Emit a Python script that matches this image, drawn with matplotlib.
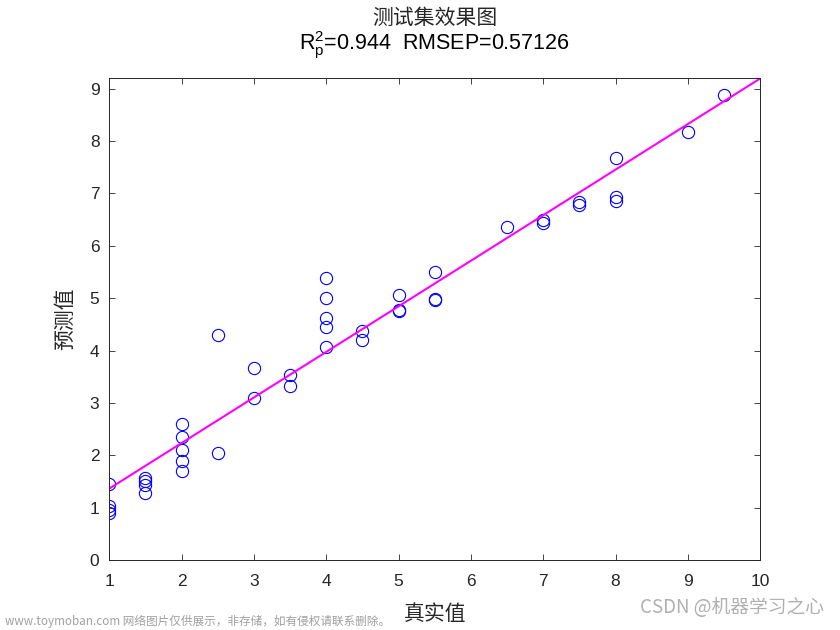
import matplotlib
matplotlib.use('Agg')
import matplotlib.pyplot as plt
import numpy as np

plt.rcParams['font.family'] = ['Liberation Sans', 'Noto Sans CJK SC', 'DejaVu Sans']
plt.rcParams['mathtext.fontset'] = 'custom'
plt.rcParams['mathtext.rm'] = 'Liberation Sans'
plt.rcParams['mathtext.it'] = 'Liberation Sans'

# test set: true values and predicted values
true_vals = [1, 1, 1, 1,
             1.5, 1.5, 1.5, 1.5,
             2, 2, 2, 2, 2,
             2.5, 2.5,
             3, 3,
             3.5, 3.5,
             4, 4, 4, 4, 4,
             4.5, 4.5,
             5, 5, 5,
             5.5, 5.5, 5.5,
             6.5,
             7, 7,
             7.5, 7.5,
             8, 8, 8,
             9,
             9.5]
pred_vals = [1.45, 1.03, 0.96, 0.90,
             1.57, 1.50, 1.43, 1.28,
             2.60, 2.34, 2.10, 1.89, 1.70,
             4.30, 2.05,
             3.67, 3.10,
             3.54, 3.33,
             5.38, 5.00, 4.62, 4.44, 4.07,
             4.38, 4.20,
             5.06, 4.77, 4.75,
             5.50, 4.98, 4.97,
             6.35,
             6.50, 6.44,
             6.83, 6.78,
             7.68, 6.93, 6.86,
             8.18,
             8.87]
r2_text = r'$\mathregular{R_p^2}$=0.944  RMSEP=0.57126'

x = np.array(true_vals)
y = np.array(pred_vals)
k, b = np.polyfit(x, y, 1)
xl = np.array([1, 10])

dark = '#262626'
fig = plt.figure(figsize=(8.4, 6.3), dpi=100)
ax = fig.add_axes([0.13, 0.111, 0.775, 0.765])
ax.plot(x, y, 'o', mfc='none', mec='#0000ff', ms=8.8, mew=0.8)
ax.plot(xl, k * xl + b, color='#ff00ff', lw=1.5)

ax.set_xlim(1, 10)
ax.set_ylim(0, 9.2)
ax.set_xticks(range(1, 11))
ax.set_yticks(range(0, 10))
ax.tick_params(direction='in', top=True, right=True, labelsize=12.5,
               length=4.5, width=0.6, colors=dark, labelcolor=dark)
ax.tick_params(axis='x', pad=10)
ax.tick_params(axis='y', pad=7)
for s in ax.spines.values():
    s.set_color(dark)
    s.set_linewidth(0.7)

cjk = ['Noto Sans CJK SC', 'DejaVu Sans']
ax.set_xlabel('真实值', family=cjk, fontsize=15, color=dark, labelpad=10)
ax.set_ylabel('预测值', family=cjk, fontsize=15, color=dark, labelpad=10)
fig.text(0.5175, 0.971, '测试集效果图', family=cjk, fontsize=15, ha='center', va='center',
         color=dark)
fig.text(0.5175, 0.921, r2_text, fontsize=15.5, ha='center', va='baseline', color='black')

fig.text(0.006, 0.014, 'www.toymoban.com 网络图片仅供展示，非存储，如有侵权请联系删除。',
         family=cjk, fontsize=8.4, color='#a0a0a0', va='center')
fig.text(0.762, 0.035, 'CSDN @机器学习之心', family=cjk, fontsize=13.5, color='#b0b0b0',
         va='center')

fig.savefig('out.png', dpi=100)
